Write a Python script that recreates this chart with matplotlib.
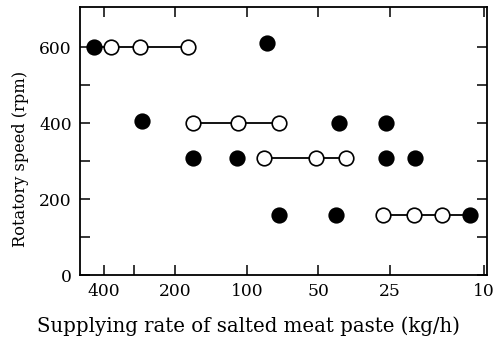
import matplotlib.pyplot as plt
from matplotlib.ticker import FixedLocator, NullFormatter

plt.rcParams['font.family'] = ['DejaVu Serif']

# Supplying rate (kg/h) and rotatory speed (rpm) for each run.
# Open circles = good result, filled = poor result.
row600_rate = [441, 373, 282, 177]
row600_speed = [600, 600, 600, 600]

row400_rate = [168, 109, 73]
row400_speed = [400, 400, 400]

row300_rate = [84.5, 51, 38]
row300_speed = [307, 307, 307]

row160_rate = [26.6, 19.7, 15, 11.4]
row160_speed = [157, 157, 157, 157]

open_rate = [373, 282, 177, 168, 109, 73, 84.5, 51, 38, 26.6, 19.7, 15]
open_speed = [600, 600, 600, 400, 400, 400, 307, 307, 307, 157, 157, 157]

filled_rate = [441, 82, 277, 40.8, 25.8, 168, 110, 25.8, 19.5, 73, 42, 11.4]
filled_speed = [600, 610, 405, 400, 400, 307, 307, 307, 307, 157, 157, 157]

x_ticks = [400, 200, 100, 50, 25, 10]
x_ticklabels = ['400', '200', '100', '50', '25', '10']

fig = plt.figure(figsize=(4.94, 3.38), dpi=100)
ax = fig.add_axes([0.162, 0.186, 0.824, 0.793])

line_kw = dict(color='black', linewidth=1.3, zorder=1)
mk = dict(marker='o', markersize=10.5, markeredgecolor='black',
          markeredgewidth=1.2, linestyle='none', zorder=3)

# connected series
ax.plot(row600_rate, row600_speed, **line_kw)
ax.plot(row400_rate, row400_speed, **line_kw)
ax.plot(row300_rate, row300_speed, **line_kw)
ax.plot(row160_rate, row160_speed, **line_kw)

ax.plot(open_rate, open_speed, markerfacecolor='white', **mk)
ax.plot(filled_rate, filled_speed, markerfacecolor='black', **mk)

ax.set_xscale('log')
ax.set_xlim(505, 9.7)
ax.set_ylim(0, 705)

ax.xaxis.set_major_locator(FixedLocator(x_ticks))
ax.set_xticklabels(x_ticklabels)
ax.xaxis.set_minor_locator(FixedLocator([300]))
ax.xaxis.set_minor_formatter(NullFormatter())

ax.set_yticks([0, 200, 400, 600])
ax.yaxis.set_minor_locator(FixedLocator([100, 300, 500]))

ax.tick_params(which='both', direction='in', length=7, width=1.1,
               labelsize=12.3, top=True, right=True, pad=6)
ax.tick_params(axis='x', which='minor', top=False)

for sp in ax.spines.values():
    sp.set_linewidth(1.3)

ax.set_xlabel('Supplying rate of salted meat paste (kg/h)', fontsize=14.2, va='center')
ax.xaxis.set_label_coords(0.413, -0.19)
ax.set_ylabel('Rotatory speed (rpm)', fontsize=11.7, va='center')
ax.yaxis.set_label_coords(-0.147, 0.433)

fig.savefig('out.png', dpi=100)
